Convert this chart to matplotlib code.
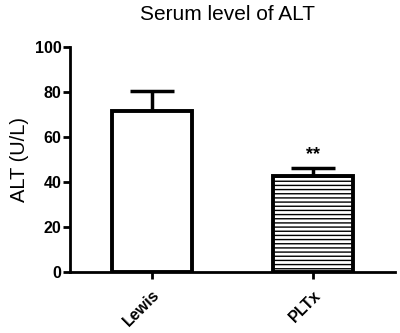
import numpy as np
import matplotlib
matplotlib.use('Agg')
import matplotlib.pyplot as plt

plt.rcParams['font.family'] = ['Liberation Sans', 'DejaVu Sans']
plt.rcParams['hatch.color'] = '#707070'
plt.rcParams['hatch.linewidth'] = 1.0

# Data
groups = ['Lewis', 'PLTx']
means = [71.5, 42.7]
sem = [8.9, 3.5]

fig = plt.figure(figsize=(4, 3.33), dpi=100)
ax = fig.add_axes([0.175, 0.183, 0.8125, 0.676])

x = np.arange(len(groups))
bars = ax.bar(x, means, width=0.5, color='white', edgecolor='black', linewidth=2.8, zorder=2)
bars[1].set_hatch('----')
ax.errorbar(x, means, yerr=[np.zeros(len(sem)), sem], fmt='none', ecolor='black',
            elinewidth=2.5, capsize=15.5, capthick=2.5, zorder=1)

ax.text(x[1], means[1] + sem[1] + 2, '**', ha='center', va='bottom', fontsize=13, fontweight='bold')

ax.set_xlim(-0.51, 1.51)
ax.set_ylim(0, 100)
ax.set_yticks([0, 20, 40, 60, 80, 100])
ax.set_xticks(x)
ax.set_xticklabels(groups, rotation=45, ha='right', rotation_mode='anchor', fontweight='bold', fontsize=11.5)
for lbl in ax.get_yticklabels():
    lbl.set_fontweight('bold')
    lbl.set_fontsize(11.5)

for s in ['top', 'right']:
    ax.spines[s].set_visible(False)
for s in ['left', 'bottom']:
    ax.spines[s].set_linewidth(2)
ax.tick_params(axis='both', width=2, length=5, pad=1)
ax.tick_params(axis='x', pad=6)

ax.set_ylabel('ALT (U/L)', fontsize=14.5, labelpad=4)
fig.text(0.57, 0.955, 'Serum level of ALT', fontsize=15, ha='center', va='center')

fig.savefig('out.png', dpi=100)
